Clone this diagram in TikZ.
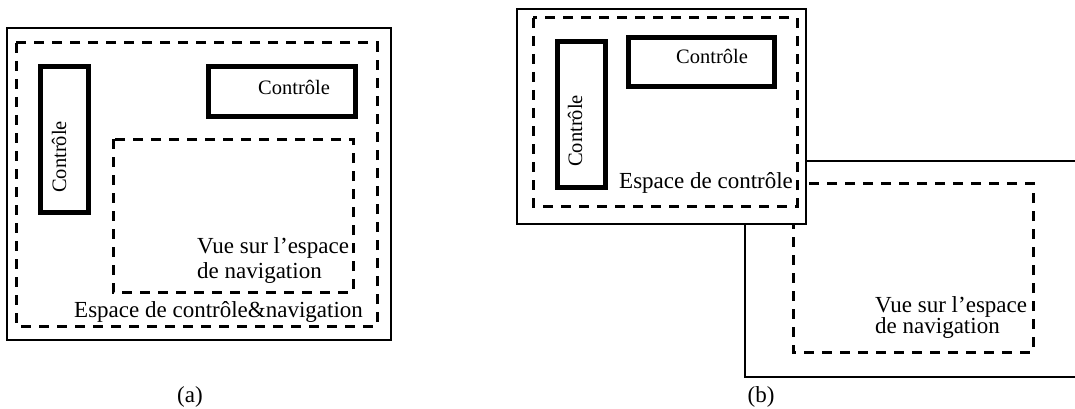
\documentclass[tikz,border=0pt]{standalone}
\usepackage{fontspec}
\setmainfont{Liberation Serif}
\usetikzlibrary{positioning}
\tikzset{frame/.style={draw=black,line width=2.8pt},
  zone/.style={draw=black,line width=3pt,dash pattern=on 10pt off 8pt},
  ctrlbox/.style={draw=black,line width=5pt},
  lbl/.style={font=\fontsize{23}{25}\selectfont,inner sep=0pt},
  ctrllbl/.style={font=\fontsize{20.5}{24}\selectfont,inner sep=0pt}}

\begin{document}
\begin{tikzpicture}[x=1pt,y=-1pt]
  \useasboundingbox (0,0) rectangle (1075,409);
  % (a) control and navigation in one space
  \begin{scope}
    \draw[frame] (7,28) rectangle (391,340);
    \draw[zone] (16,43) rectangle (377,326);
    \draw[ctrlbox] (40,67) rectangle (88,212);
    \draw[ctrlbox] (208,67) rectangle (355,117);
    \draw[zone] (113,139) rectangle (353,292);
    \node[ctrllbl,rotate=90] (ctrlva) at (59,157) {Contrôle};
    \node[ctrllbl] (ctrlha) at (294,87) {Contrôle};
    \node[lbl,align=left,anchor=north west] (viewa) at (197,237) {Vue sur l'espace\\de navigation};
    \node[lbl,anchor=base west] (spacea) at (74,317) {Espace de contrôle\&navigation};
    \node[lbl] (capa) at (190,397) {(a)};
  \end{scope}
  % (b) control space over the navigation space
  \begin{scope}
    \draw[frame] (1075,161) -- (745,161) -- (745,377) -- (1075,377);
    \draw[zone] (793,183) rectangle (1033,352);
    \node[lbl,font=\fontsize{23}{21.5}\selectfont,align=left,anchor=north west] (viewb) at (875,296) {Vue sur l'espace\\de navigation};
    \draw[frame,fill=white] (517,9) rectangle (806,224);
    \draw[zone] (533,18) rectangle (797,206);
    \draw[ctrlbox] (557,42) rectangle (605,187);
    \draw[ctrlbox] (628,38) rectangle (774,87);
    \node[ctrllbl,rotate=90] (ctrlvb) at (575,131) {Contrôle};
    \node[ctrllbl] (ctrlhb) at (712,56) {Contrôle};
    \node[lbl,anchor=base west] (spaceb) at (619,188) {Espace de contrôle};
    \node[lbl] (capb) at (761,397) {(b)};
  \end{scope}
\end{tikzpicture}
\end{document}
